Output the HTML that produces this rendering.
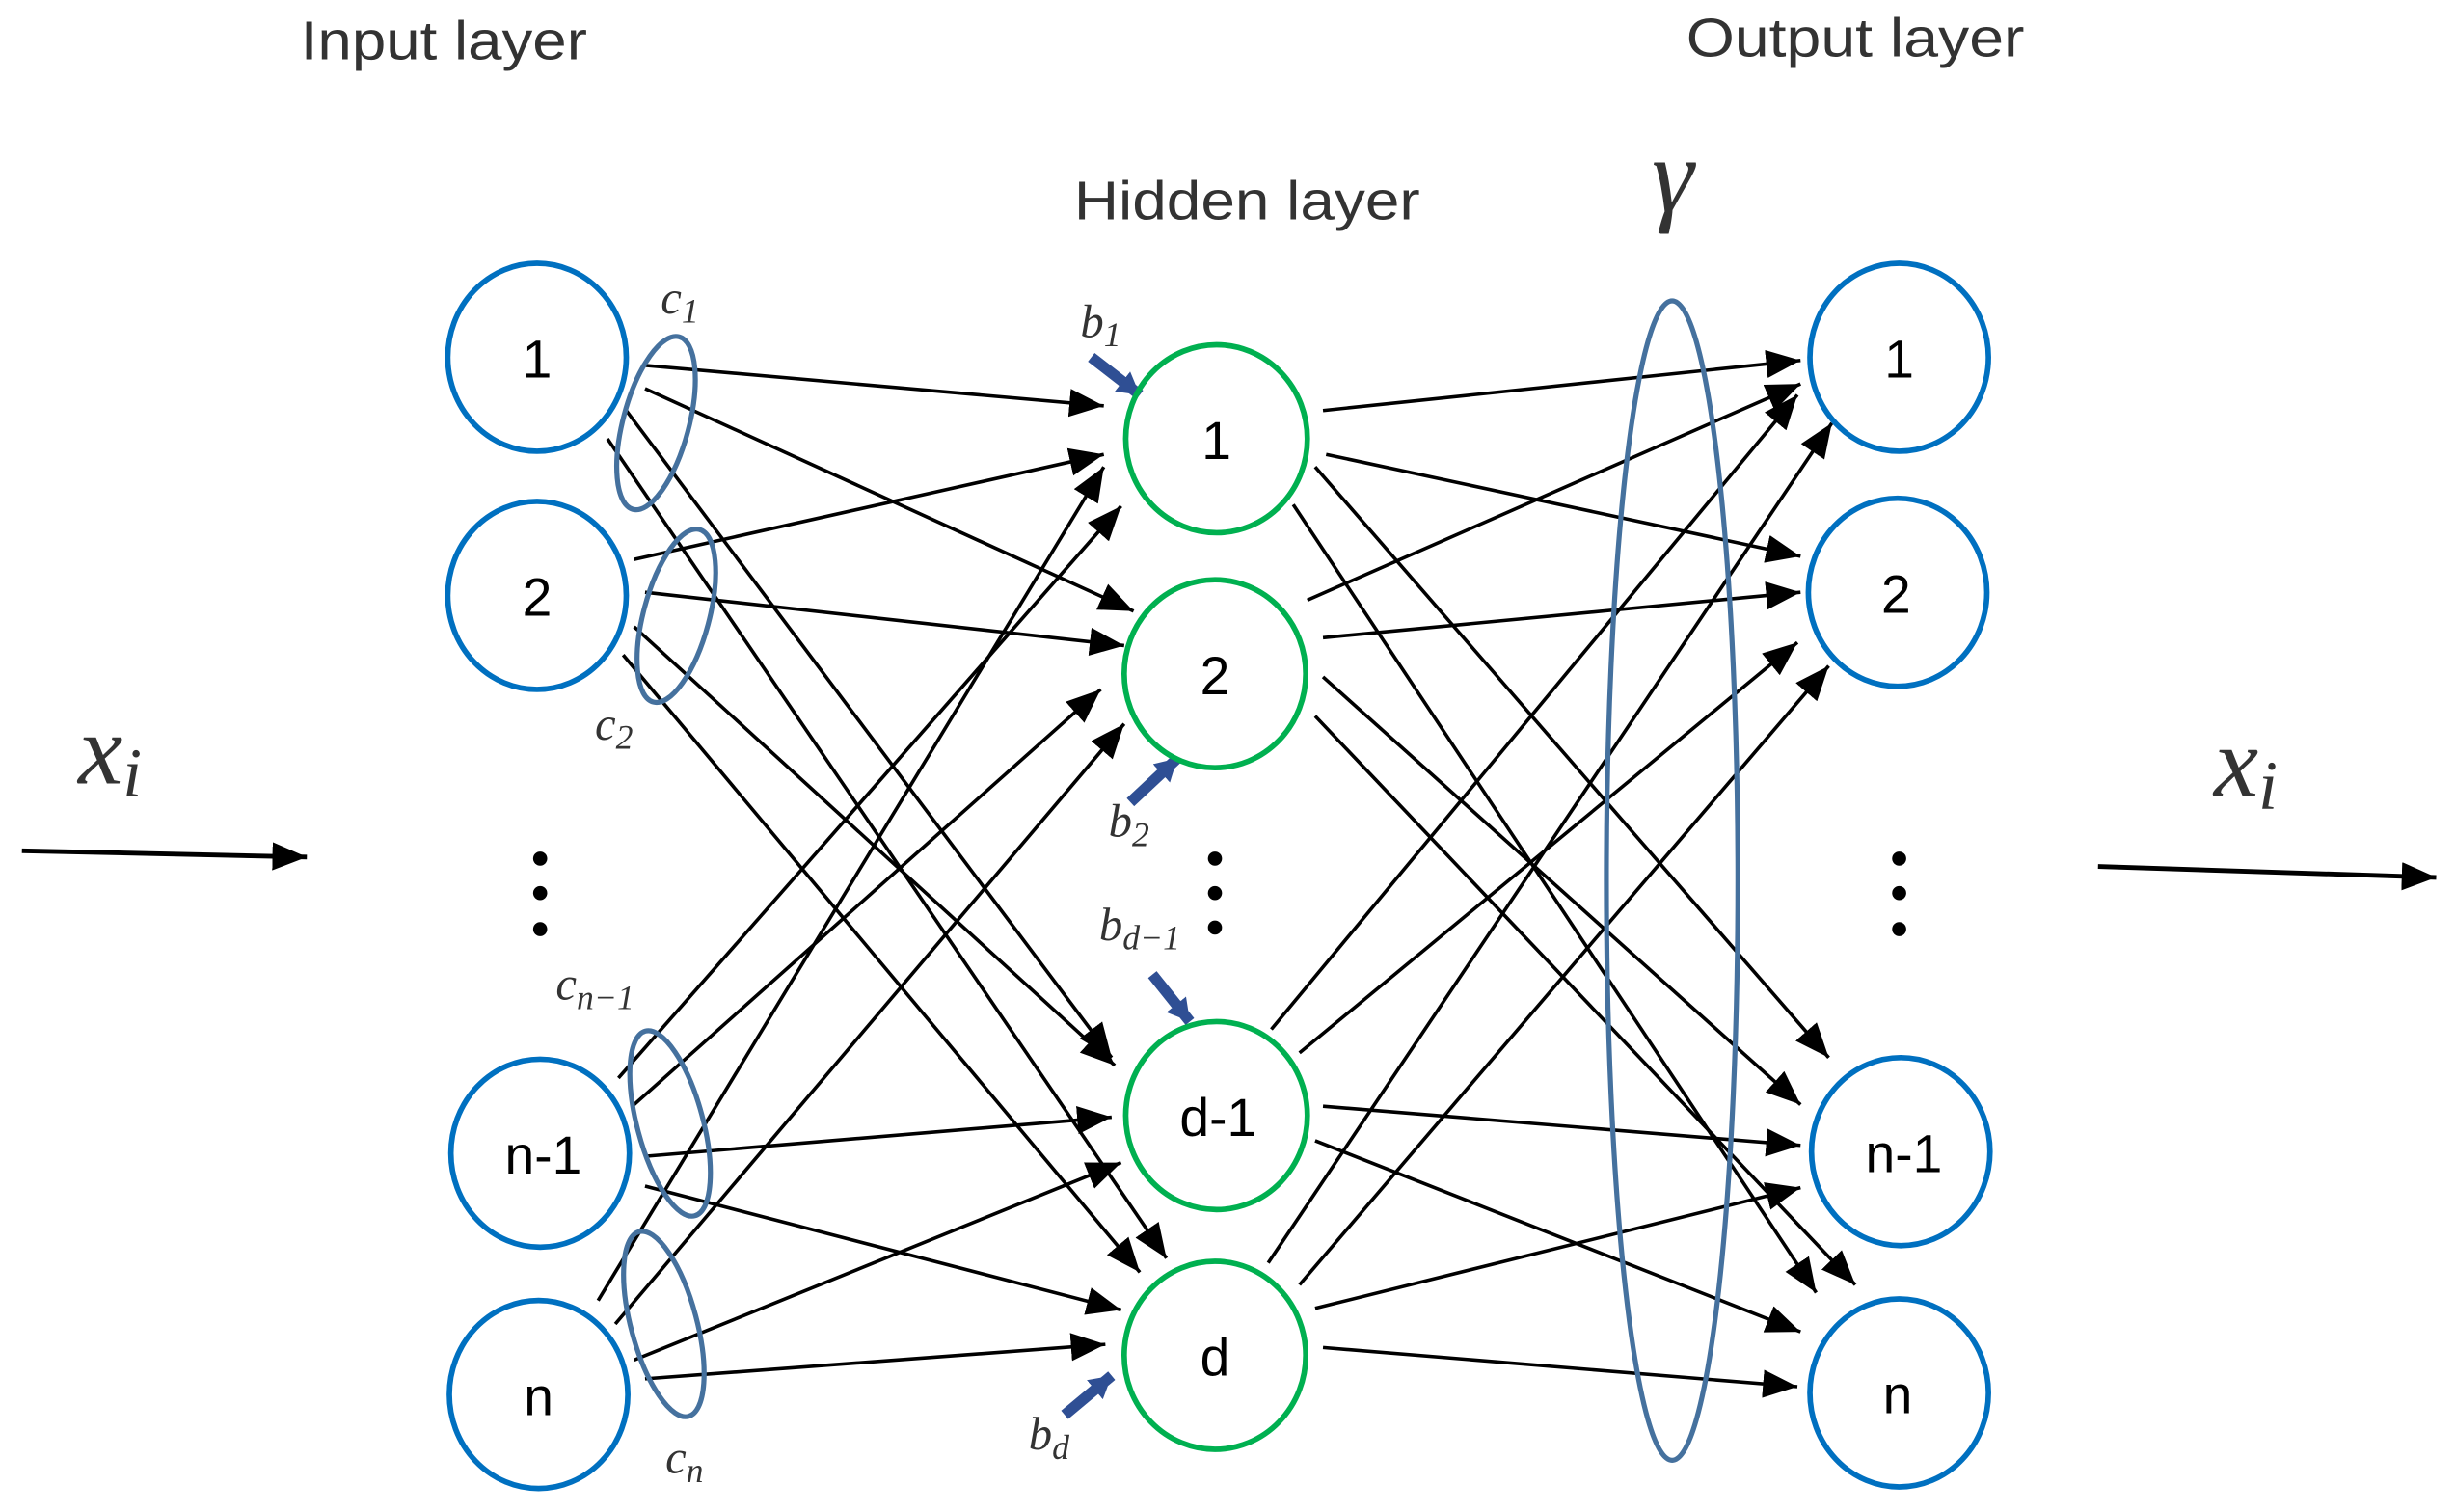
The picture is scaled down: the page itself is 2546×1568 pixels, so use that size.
<!DOCTYPE html>
<html><head><meta charset="utf-8"><style>
html,body{margin:0;padding:0;background:#fff;}
svg{display:block;}
</style></head><body>
<svg width="2546" height="1568" viewBox="0 0 1568 965" preserveAspectRatio="none" xmlns="http://www.w3.org/2000/svg">
<defs>
<marker id="a" markerUnits="userSpaceOnUse" markerWidth="24" markerHeight="20" refX="22" refY="9" orient="auto">
<path d="M0,0 L22,9 L0,18 Z" fill="#000"/>
</marker>
<marker id="b" markerUnits="userSpaceOnUse" markerWidth="16" markerHeight="16" refX="14" refY="8" orient="auto">
<path d="M0,0 L14,8 L0,16 Z" fill="#2f4f94"/>
</marker>
</defs>
<g font-family="Liberation Sans, sans-serif" font-size="35" fill="#333">
<text x="192" y="38" textLength="183" lengthAdjust="spacingAndGlyphs">Input layer</text>
<text x="1077" y="36" textLength="216" lengthAdjust="spacingAndGlyphs">Output layer</text>
<text x="686" y="140" textLength="221" lengthAdjust="spacingAndGlyphs">Hidden layer</text>
</g>
<g font-family="Liberation Serif, serif" font-style="italic" fill="#333">
<text x="1055" y="135" font-size="68">γ</text>
<text x="50" y="500" font-size="64">x<tspan font-size="44" dy="8">i</tspan></text>
<text x="1414" y="508" font-size="64">x<tspan font-size="44" dy="8">i</tspan></text>
<g font-size="30">
<text x="422" y="200">c<tspan font-size="22" dy="6">1</tspan></text>
<text x="380" y="472">c<tspan font-size="22" dy="6">2</tspan></text>
<text x="355" y="638">c<tspan font-size="22" dy="6">n−1</tspan></text>
<text x="425" y="940">c<tspan font-size="22" dy="6">n</tspan></text>
<text x="690" y="215">b<tspan font-size="22" dy="6">1</tspan></text>
<text x="708" y="534">b<tspan font-size="22" dy="6">2</tspan></text>
<text x="702" y="600">b<tspan font-size="22" dy="6">d−1</tspan></text>
<text x="657" y="925">b<tspan font-size="22" dy="6">d</tspan></text>
</g>
</g>
<g stroke="#000" stroke-width="2.2" marker-end="url(#a)">
<line x1="14" y1="543" x2="196" y2="547" stroke-width="3"/>
<line x1="1340" y1="553" x2="1556" y2="560" stroke-width="3"/>
<line x1="410" y1="233" x2="705" y2="259"/>
<line x1="412" y1="248" x2="724" y2="390"/>
<line x1="400" y1="262" x2="710" y2="675"/>
<line x1="388" y1="280" x2="745" y2="803"/>
<line x1="405" y1="357" x2="705" y2="290"/>
<line x1="412" y1="378" x2="718" y2="412"/>
<line x1="405" y1="400" x2="712" y2="680"/>
<line x1="398" y1="418" x2="728" y2="812"/>
<line x1="395" y1="688" x2="716" y2="323"/>
<line x1="405" y1="705" x2="703" y2="440"/>
<line x1="412" y1="738" x2="710" y2="713"/>
<line x1="412" y1="757" x2="716" y2="836"/>
<line x1="382" y1="830" x2="705" y2="298"/>
<line x1="393" y1="845" x2="718" y2="462"/>
<line x1="405" y1="868" x2="716" y2="742"/>
<line x1="412" y1="880" x2="706" y2="858"/>
<line x1="845" y1="262" x2="1150" y2="230"/>
<line x1="847" y1="290" x2="1150" y2="355"/>
<line x1="840" y1="298" x2="1168" y2="675"/>
<line x1="826" y1="322" x2="1160" y2="825"/>
<line x1="835" y1="383" x2="1150" y2="245"/>
<line x1="845" y1="407" x2="1150" y2="378"/>
<line x1="845" y1="432" x2="1150" y2="705"/>
<line x1="840" y1="457" x2="1185" y2="820"/>
<line x1="812" y1="657" x2="1148" y2="252"/>
<line x1="830" y1="672" x2="1148" y2="410"/>
<line x1="845" y1="706" x2="1150" y2="731"/>
<line x1="840" y1="728" x2="1150" y2="850"/>
<line x1="810" y1="806" x2="1170" y2="270"/>
<line x1="830" y1="820" x2="1168" y2="425"/>
<line x1="840" y1="835" x2="1150" y2="758"/>
<line x1="845" y1="860" x2="1148" y2="885"/>
</g>
<g stroke="#2f4f94" stroke-width="7" marker-end="url(#b)">
<line x1="697" y1="228" x2="728" y2="252"/>
<line x1="722" y1="512" x2="752" y2="484"/>
<line x1="736" y1="622" x2="760" y2="652"/>
<line x1="680" y1="903" x2="710" y2="878"/>
</g>
<g fill="none" stroke="#45719e" stroke-width="3.2">
<ellipse cx="419" cy="270" rx="21" ry="57" transform="rotate(15 419 270)"/>
<ellipse cx="432" cy="393" rx="21" ry="57" transform="rotate(15 432 393)"/>
<ellipse cx="428" cy="717" rx="21" ry="61" transform="rotate(-15 428 717)"/>
<ellipse cx="424" cy="845" rx="21" ry="61" transform="rotate(-15 424 845)"/>
<ellipse cx="1068" cy="562" rx="42" ry="370"/>
</g>
<g fill="none" stroke-width="3.5">
<g stroke="#0070c0">
<ellipse cx="343" cy="228" rx="57" ry="60"/>
<ellipse cx="343" cy="380" rx="57" ry="60"/>
<ellipse cx="345" cy="736" rx="57" ry="60"/>
<ellipse cx="344" cy="890" rx="57" ry="60"/>
<ellipse cx="1213" cy="228" rx="57" ry="60"/>
<ellipse cx="1212" cy="378" rx="57" ry="60"/>
<ellipse cx="1214" cy="735" rx="57" ry="60"/>
<ellipse cx="1213" cy="889" rx="57" ry="60"/>
</g>
<g stroke="#00b050">
<ellipse cx="777" cy="280" rx="58" ry="60"/>
<ellipse cx="776" cy="430" rx="58" ry="60"/>
<ellipse cx="777" cy="712" rx="58" ry="60"/>
<ellipse cx="776" cy="865" rx="58" ry="60"/>
</g>
</g>
<g fill="#000">
<circle cx="345" cy="548" r="4.5"/><circle cx="345" cy="570" r="4.5"/><circle cx="345" cy="593" r="4.5"/>
<circle cx="776" cy="548" r="4.5"/><circle cx="776" cy="570" r="4.5"/><circle cx="776" cy="592" r="4.5"/>
<circle cx="1213" cy="548" r="4.5"/><circle cx="1213" cy="570" r="4.5"/><circle cx="1213" cy="593" r="4.5"/>
</g>
<g font-family="Liberation Sans, sans-serif" font-size="34" fill="#000" text-anchor="middle">
<text x="343" y="241">1</text><text x="343" y="393">2</text><text x="347" y="749">n-1</text><text x="344" y="903">n</text>
<text x="777" y="293">1</text><text x="776" y="443">2</text><text x="778" y="725">d-1</text><text x="776" y="878">d</text>
<text x="1213" y="241">1</text><text x="1211" y="391">2</text><text x="1216" y="748">n-1</text><text x="1212" y="902">n</text>
</g>
</svg>
</body></html>
